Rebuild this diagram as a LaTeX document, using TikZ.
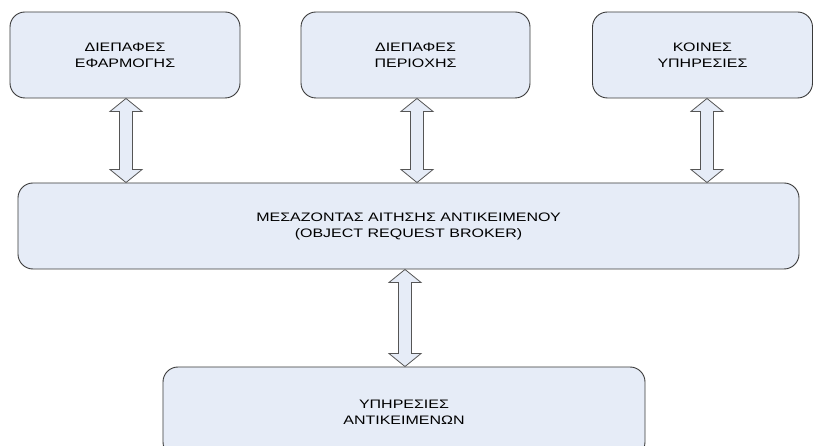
\documentclass[tikz,border=0pt]{standalone}
\usepackage{fontspec}
\setmainfont{Liberation Sans}[FakeStretch=1.3]
\usetikzlibrary{calc}
\definecolor{boxfill}{HTML}{E6ECF7}
\definecolor{boxline}{HTML}{3A3A3A}
\definecolor{arrowline}{HTML}{555555}
\tikzset{
  unit/.style={x=1bp,y=-1bp},
  block/.style={draw=boxline, fill=boxfill, line width=0.9bp, rounded corners=15bp,
    align=center, inner sep=0pt, font=\fontsize{12.3bp}{16bp}\selectfont},
  blockarrow/.style={draw=arrowline, fill=boxfill, line width=0.8bp, line join=miter},
}
% hollow double-headed block arrow from the south side of #1 to the north side of #2,
% shifted horizontally by #3
\newcommand{\dblarrow}[3]{%
  \draw[blockarrow] let \p1=($(#1.south)+(#3,0)$), \p2=($(#1.south |- #2.north)+(#3,0)$) in
    (\x1,\y1) -- (\x1+16bp,\y1-13bp) -- (\x1+6.5bp,\y1-13bp) -- (\x1+6.5bp,\y2+13bp)
    -- (\x1+16bp,\y2+13bp) -- (\x1,\y2) -- (\x1-16bp,\y2+13bp) -- (\x1-6.5bp,\y2+13bp)
    -- (\x1-6.5bp,\y1-13bp) -- (\x1-16bp,\y1-13bp) -- cycle;}
\begin{document}
\begin{tikzpicture}[unit]
  \useasboundingbox (0,0) rectangle (814,446);
  \clip (0,0) rectangle (814,446);
  \node[block, minimum width=230bp, minimum height=86bp] (app) at (125,55) {ΔΙΕΠΑΦΕΣ\\ΕΦΑΡΜΟΓΗΣ};
  \node[block, minimum width=229bp, minimum height=86bp] (dom) at (415.5,55) {ΔΙΕΠΑΦΕΣ\\ΠΕΡΙΟΧΗΣ};
  \node[block, minimum width=220bp, minimum height=86bp] (com) at (702.5,55) {ΚΟΙΝΕΣ\\ΥΠΗΡΕΣΙΕΣ};
  \node[block, minimum width=781bp, minimum height=86bp] (orb) at (408.5,226) {ΜΕΣΑΖΟΝΤΑΣ ΑΙΤΗΣΗΣ ΑΝΤΙΚΕΙΜΕΝΟΥ\\(OBJECT REQUEST BROKER)};
  \node[block, minimum width=482bp, minimum height=90bp] (obj) at (404,412) {ΥΠΗΡΕΣΙΕΣ\\ΑΝΤΙΚΕΙΜΕΝΩΝ};
  \dblarrow{app}{orb}{1bp}
  \dblarrow{dom}{orb}{1.5bp}
  \dblarrow{com}{orb}{4.5bp}
  \dblarrow{orb}{obj}{-3.5bp}
\end{tikzpicture}
\end{document}
